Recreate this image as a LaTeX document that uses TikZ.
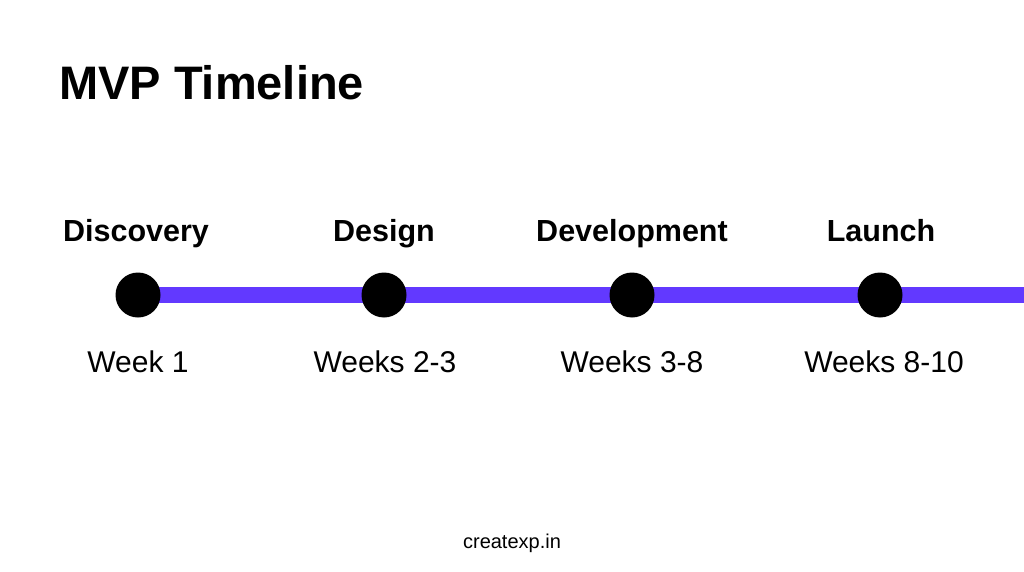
\documentclass[tikz,border=0pt]{standalone}
\usepackage{fontspec}
\setmainfont{Liberation Sans}
\definecolor{linepurple}{RGB}{98,57,255}
\begin{document}
\begin{tikzpicture}[x=1pt,y=-1pt,
  dot/.style={circle,fill=black,minimum size=45pt,inner sep=0pt},
  phase/.style={font=\bfseries\fontsize{30.5}{32}\selectfont,anchor=base},
  weeks/.style={font=\fontsize{30}{32}\selectfont,anchor=base},
]
\useasboundingbox[fill=white] (0,0) rectangle (1024,572);
\node[anchor=base west,inner sep=0pt,font=\bfseries\fontsize{47}{52}\selectfont] (title) at (59,100) {MVP Timeline};
\coordinate (d1) at (138,295);
\coordinate (d2) at (384,295);
\coordinate (d3) at (632,295);
\coordinate (d4) at (880,295);
\coordinate (lineend) at (1024,295);
\draw[linepurple,line width=16pt] (d1) -- (lineend);
\node[dot] (n1) at (d1) {};
\node[dot] (n2) at (d2) {};
\node[dot] (n3) at (d3) {};
\node[dot] (n4) at (d4) {};
\node[phase] (p1) at (136,241) {Discovery};
\node[phase] (p2) at (384,241) {Design};
\node[phase] (p3) at (632,241) {Development};
\node[phase] (p4) at (881,241) {Launch};
\node[weeks] (w1) at (138,372) {Week 1};
\node[weeks] (w2) at (385,372) {Weeks 2-3};
\node[weeks] (w3) at (632,372) {Weeks 3-8};
\node[weeks] (w4) at (884,372) {Weeks 8-10};
\node[anchor=base,font=\fontsize{20}{22}\selectfont] (footer) at (512,548) {createxp.in};
\end{tikzpicture}
\end{document}
